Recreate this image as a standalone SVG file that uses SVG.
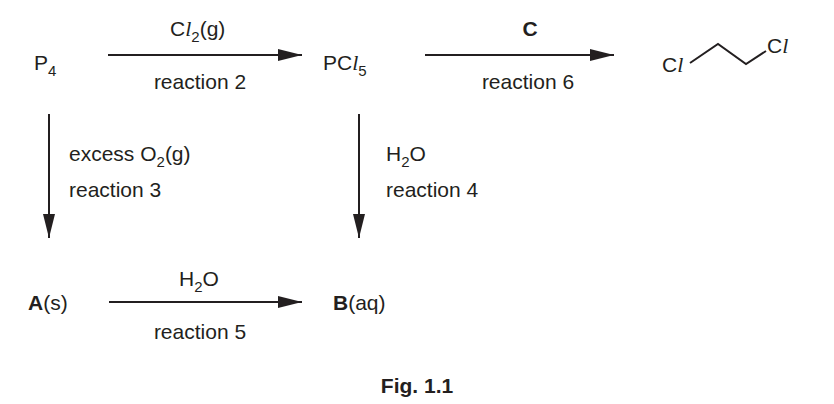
<svg xmlns="http://www.w3.org/2000/svg" width="834" height="404" viewBox="0 0 834 404">
<style>
text{font-family:"Liberation Sans",Arial,sans-serif;font-size:21px;fill:#231f20}
.c{text-anchor:middle}
.b{font-weight:bold}
.l{font-family:"Liberation Serif",serif;font-style:italic;font-size:22px}
.ln{stroke:#231f20;stroke-width:2;fill:none}
</style>
<defs>
<marker id="a" viewBox="0 0 24 12" markerWidth="24" markerHeight="12" refX="24" refY="6" orient="auto" markerUnits="userSpaceOnUse"><path d="M0,0L24,6L0,12Z" fill="#231f20"/></marker></defs>
<g id="connectors">
<line class="ln" x1="108" y1="55" x2="302" y2="55" marker-end="url(#a)"/>
<line class="ln" x1="425" y1="55" x2="614" y2="55" marker-end="url(#a)"/>
<line class="ln" x1="49" y1="114" x2="49" y2="238" marker-end="url(#a)"/>
<line class="ln" x1="359" y1="114" x2="359" y2="238" marker-end="url(#a)"/>
<line class="ln" x1="109" y1="302" x2="302" y2="302" marker-end="url(#a)"/>
</g>
<g id="P4"><text x="34" y="70">P<tspan dy="6" font-size="15">4</tspan></text></g>
<g id="PCl5"><text x="323" y="70">PC<tspan class="l">l</tspan><tspan dy="6" font-size="15">5</tspan></text></g>
<g id="dichloroethane">
<text x="662" y="72">C<tspan class="l">l</tspan></text>
<path class="ln" d="M690,63L718,44L746,64L766,51" stroke-width="1.5"/>
<text x="767" y="53">C<tspan class="l">l</tspan></text>
</g>
<g id="A"><text x="28" y="310"><tspan class="b">A</tspan>(s)</text></g>
<g id="B"><text x="333" y="310"><tspan class="b">B</tspan>(aq)</text></g>
<g id="labels">
<text x="170" y="36">C<tspan class="l">l</tspan><tspan dy="6" font-size="15">2</tspan><tspan dy="-6">(g)</tspan></text>
<text class="c" x="200" y="89">reaction 2</text>
<text class="c b" x="530" y="36">C</text>
<text class="c" x="528" y="89">reaction 6</text>
<text x="69" y="161">excess O<tspan dy="6" font-size="15">2</tspan><tspan dy="-6">(g)</tspan></text>
<text x="69" y="197">reaction 3</text>
<text x="386" y="161">H<tspan dy="6" font-size="15">2</tspan><tspan dy="-6">O</tspan></text>
<text x="386" y="197">reaction 4</text>
<text x="179" y="286">H<tspan dy="6" font-size="15">2</tspan><tspan dy="-6">O</tspan></text>
<text class="c" x="200" y="339">reaction 5</text>
<text class="c b" x="417" y="393">Fig. 1.1</text>
</g>
</svg>
